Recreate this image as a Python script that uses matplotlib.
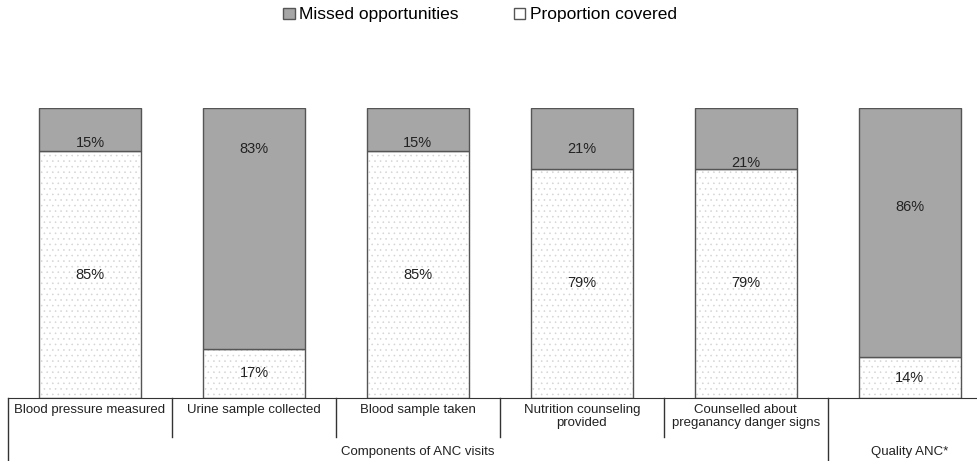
import matplotlib.pyplot as plt
from matplotlib.patches import Patch
from matplotlib.lines import Line2D

plt.rcParams['font.family'] = ['Liberation Sans', 'DejaVu Sans']
plt.rcParams['hatch.linewidth'] = 0.4

categories = ['Blood pressure measured', 'Urine sample collected', 'Blood sample taken',
              'Nutrition counseling\nprovided', 'Counselled about\npreganancy danger signs', '']
covered = [85, 17, 85, 79, 79, 14]
missed = [15, 83, 15, 21, 21, 86]
group_labels = ['Components of ANC visits', 'Quality ANC*']

# label heights (nudged like in the original)
missed_label_y = [88, 86, 88, 86, 81, 66]

fig = plt.figure(figsize=(9.77, 4.61), dpi=100)
ax = fig.add_axes([8 / 977, 1 - 398 / 461, 969 / 977, 290 / 461])

x = range(len(categories))
w = 0.62
txt = '#222222'
ax.bar(x, covered, w, color='white', hatch='...', edgecolor='#d4d4d4', linewidth=0)
ax.bar(x, covered, w, facecolor='none', edgecolor='#555555', linewidth=1)
ax.bar(x, missed, w, bottom=covered, color='#a6a6a6', edgecolor='#555555', linewidth=1)

for i in x:
    ax.text(i, covered[i] / 2, f'{covered[i]}%', ha='center', va='center', fontsize=10.5, color=txt)
    ax.text(i, missed_label_y[i], f'{missed[i]}%', ha='center', va='center', fontsize=10.5, color=txt)

ax.set_xlim(-0.5, 5.41)
ax.set_ylim(0, 100)
for s in ['top', 'right', 'left']:
    ax.spines[s].set_visible(False)
ax.spines['bottom'].set_color('#333333')
ax.set_yticks([])
ax.set_xticks([])

tr = ax.get_xaxis_transform()
for b in [0.5, 1.5, 2.5, 3.5]:
    ax.add_line(Line2D([b, b], [0, -39 / 290], transform=tr, color='#333333', lw=1, clip_on=False))
for b in [-0.5, 4.5]:
    ax.add_line(Line2D([b, b], [0, -63 / 290], transform=tr, color='#333333', lw=1, clip_on=False))

for i, c in enumerate(categories):
    ax.text(i, -6 / 290, c, transform=tr, ha='center', va='top', fontsize=9.5, color=txt, linespacing=1.1)
ax.text(2, -54 / 290, group_labels[0], transform=tr, ha='center', va='center', fontsize=9.5, color=txt)
ax.text(5, -54 / 290, group_labels[1], transform=tr, ha='center', va='center', fontsize=9.5, color=txt)

handles = [Patch(facecolor='#a6a6a6', edgecolor='#555555', label='Missed opportunities'),
           Patch(facecolor='white', edgecolor='#555555', label='Proportion covered')]
fig.legend(handles=handles, loc='center', bbox_to_anchor=(480 / 977, 1 - 15 / 461), ncol=2,
           frameon=False, fontsize=12.5, handlelength=0.65, handleheight=0.65, handletextpad=0.25,
           columnspacing=3.2)

fig.savefig('out.png', dpi=100)
